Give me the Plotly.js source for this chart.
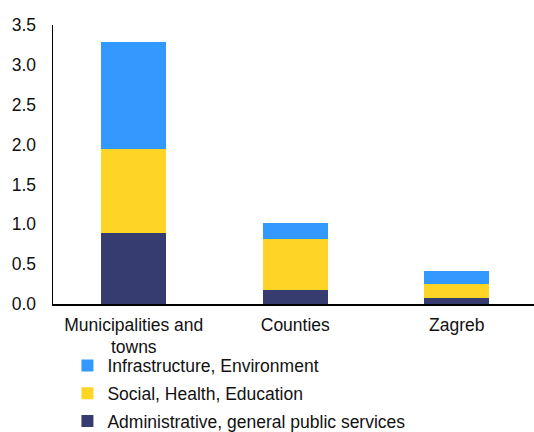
<!DOCTYPE html>
<html><head><meta charset="utf-8">
<script src="https://cdn.plot.ly/plotly-3.0.1.min.js"></script>
<style>html,body{margin:0;padding:0;background:#fff}</style>
</head><body><div id="chart" style="width:534px;height:432px"></div>
<script>
const categories = ["Municipalities and<br>towns", "Counties", "Zagreb"];
const administrative = [0.89, 0.17, 0.08];
const social = [1.055, 0.64, 0.175];
const infrastructure = [1.345, 0.20, 0.155];
const yTicks = [0, 0.5, 1, 1.5, 2, 2.5, 3, 3.5];
const yTickText = ["0.0", "0.5", "1.0", "1.5", "2.0", "2.5", "3.0", "3.5"];

const traces = [
  {type:'bar', name:'Administrative, general public services', x:categories, y:administrative, marker:{color:'#373c70'}, legendgroup:'a', legendrank:3},
  {type:'bar', name:'Social, Health, Education', x:categories, y:social, marker:{color:'#ffd525'}, legendgroup:'b', legendrank:2},
  {type:'bar', name:'Infrastructure, Environment', x:categories, y:infrastructure, marker:{color:'#3399ff'}, legendgroup:'c', legendrank:1}
];
const layout = {
  width:534, height:432,
  margin:{l:53, r:0, t:25, b:128, autoexpand:false},
  barmode:'stack', bargap:0.6,
  font:{family:'"Liberation Sans", Arial, sans-serif', size:17.5, color:'#111'},
  paper_bgcolor:'#fff', plot_bgcolor:'#fff',
  hovermode:false,
  xaxis:{type:'category', range:[-0.5, 2.478], showline:true, linecolor:'#000', linewidth:1.5, ticks:'', showgrid:false, zeroline:false, ticklabelstandoff:4},
  yaxis:{range:[0,3.5], tickvals:yTicks, ticktext:yTickText, showline:true, linecolor:'#000', linewidth:1.5, ticks:'', showgrid:false, zeroline:false, ticklabelstandoff:12},
  showlegend:true,
  legend:{orientation:'v', traceorder:'grouped', tracegroupgap:2, x:0.03, xanchor:'left', y:-0.156, yanchor:'top', font:{size:17.5}, bgcolor:'rgba(0,0,0,0)'}
};
Plotly.newPlot('chart', traces, layout, {displayModeBar:false, staticPlot:true});
</script></body></html>
